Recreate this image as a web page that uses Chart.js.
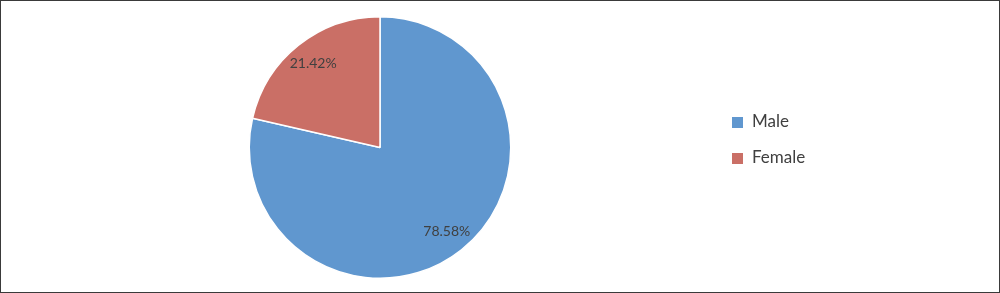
<!DOCTYPE html>
<html>
<head>
<meta charset="utf-8">
<script src="https://cdn.jsdelivr.net/npm/chart.js@4/dist/chart.umd.min.js"></script>
<style>
  html, body { margin: 0; padding: 0; background: #fff; }
  #box { width: 1000px; height: 293px; box-sizing: border-box; border: 1px solid #3a3a3a; position: relative; }
  #box canvas { position: absolute; left: 0; top: 0; }
</style>
</head>
<body>
<div id="box"><canvas id="pieChart" width="998" height="291"></canvas></div>
<script>
const labels = ['Male', 'Female'];
const shares = [78.58, 21.42];
const colors = ['#6097CF', '#CA6F66'];

const FONT = "Lato, 'Open Sans', sans-serif";
const TEXT = '#404040';

// percentage labels inside slices
const sliceLabels = {
  id: 'sliceLabels',
  afterDatasetsDraw(chart) {
    const ctx = chart.ctx;
    const meta = chart.getDatasetMeta(0);
    ctx.save();
    ctx.font = '14px ' + FONT;
    ctx.fillStyle = TEXT;
    ctx.textAlign = 'center';
    ctx.textBaseline = 'middle';
    meta.data.forEach((arc, i) => {
      const p = arc.getProps(['x', 'y', 'startAngle', 'endAngle', 'outerRadius'], true);
      const mid = (p.startAngle + p.endAngle) / 2;
      const r = p.outerRadius * 0.82;
      ctx.fillText(shares[i].toFixed(2) + '%', p.x + Math.cos(mid) * r, p.y + Math.sin(mid) * r);
    });
    ctx.restore();
  }
};

// legend on the right
const sideLegend = {
  id: 'sideLegend',
  afterDraw(chart) {
    const ctx = chart.ctx;
    ctx.save();
    ctx.font = '17px ' + FONT;
    ctx.textBaseline = 'middle';
    labels.forEach((lab, i) => {
      const y = 121 + i * 36;
      ctx.fillStyle = colors[i];
      ctx.fillRect(731, y - 5, 11, 11);
      ctx.fillStyle = TEXT;
      ctx.fillText(lab, 751, y);
    });
    ctx.restore();
  }
};

new Chart(document.getElementById('pieChart'), {
  type: 'pie',
  data: {
    labels: labels,
    datasets: [{
      data: shares,
      backgroundColor: colors,
      borderColor: '#ffffff',
      borderWidth: 1.5
    }]
  },
  options: {
    responsive: false,
    animation: false,
    layout: { padding: { left: 247, right: 487, top: 15, bottom: 13 } },
    plugins: {
      legend: { display: false },
      tooltip: { enabled: false }
    }
  },
  plugins: [sliceLabels, sideLegend]
});
</script>
</body>
</html>
